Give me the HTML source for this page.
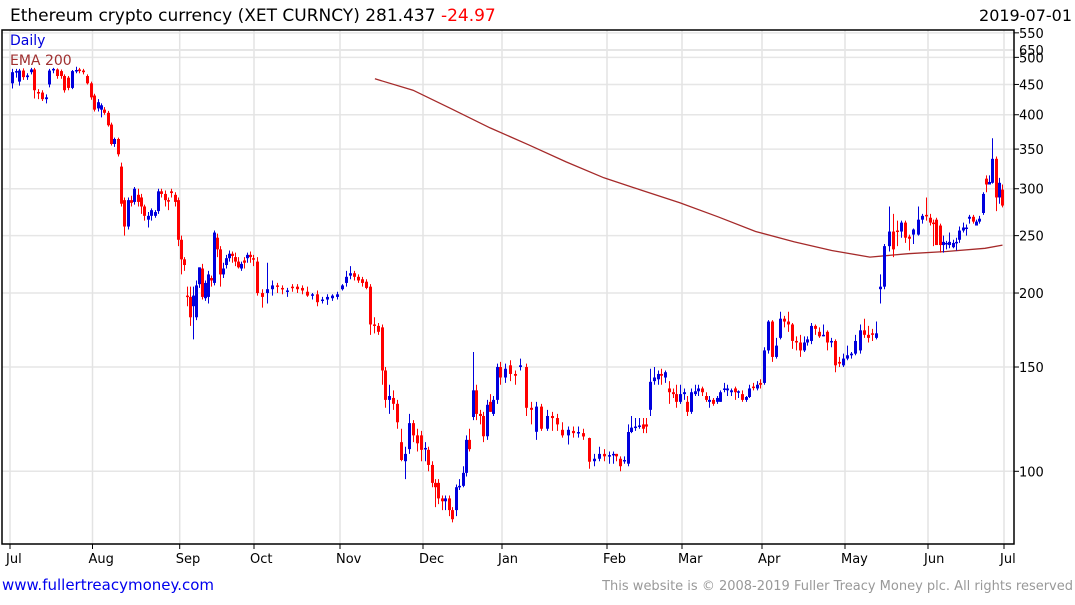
<!DOCTYPE html>
<html><head><meta charset="utf-8"><style>
html,body{margin:0;padding:0;background:#fff;}
body{width:1075px;height:600px;overflow:hidden;font-family:"Liberation Sans","DejaVu Sans",sans-serif;}
svg text{font-family:"DejaVu Sans","Liberation Sans",sans-serif;}
</style></head><body>
<svg id="chart" width="1075" height="600" viewBox="0 0 1075 600" xmlns="http://www.w3.org/2000/svg">
<rect width="1075" height="600" fill="#fff"/>
<text x="10" y="21" font-size="17" fill="#000">Ethereum crypto currency  (XET CURNCY) 281.437 <tspan fill="#ff0000">-24.97</tspan></text>
<text x="1072" y="21" font-size="16" fill="#000" text-anchor="end">2019-07-01</text>
<g id="grid"></g>
<line x1="2" y1="50" x2="1014" y2="50" stroke="#e6e6e6" stroke-width="2"/>
<g id="ema"></g>
<g id="candles"></g>
<rect x="2" y="30" width="1012" height="514" fill="none" stroke="#000" stroke-width="1.5"/>
<g id="yaxis"></g>
<g id="xaxis"></g>
<text x="10" y="45" font-size="14" fill="#0000dd">Daily</text>
<text x="10" y="65" font-size="14" fill="#a03030">EMA 200</text>
<text x="2" y="590" font-size="15" fill="#0000ee">www.fullertreacymoney.com</text>
<text x="1073" y="590" font-size="13" fill="#999" text-anchor="end">This website is © 2008-2019 Fuller Treacy Money plc. All rights reserved</text>
</svg>
<script>
const monthLabels=['Jul','Aug','Sep','Oct','Nov','Dec','Jan','Feb','Mar','Apr','May','Jun','Jul'];
const priceTicks=[100,150,200,250,300,350,400,450,500,550];
const candlesByMonth=[
[[452,478,443,472],[472,478,462,474],[455,478,448,475],[475,479,458,463],[463,470,458,466],[472,480,468,477],[477,480,426,440],[437,442,425,436],[436,440,422,425],[425,433,418,428],[450,478,445,475],[476,480,470,478],[477,479,460,465],[474,477,460,465],[465,468,436,440],[462,465,440,444],[444,476,442,474],[474,482,470,476],[477,480,470,474],[475,478,468,472],[465,468,450,452],[452,455,424,428]],
[[431,434,405,408],[410,425,405,420],[408,418,396,415],[408,412,400,403],[403,406,382,384],[385,388,355,357],[357,366,353,364],[364,366,340,343],[327,332,280,283],[287,290,250,259],[259,290,256,287],[287,292,280,284],[285,302,282,300],[293,300,280,285],[290,294,272,280],[280,282,265,270],[266,274,258,270],[270,278,265,276],[270,276,268,274],[275,300,272,297],[297,300,290,294],[294,298,280,287],[287,290,276,286],[297,300,290,295],[293,296,280,285],[287,290,240,246]],
[[246,250,215,228],[228,230,218,223],[198,205,190,197],[197,205,176,182],[190,205,167,198],[182,210,180,206],[207,221,204,221],[220,224,195,197],[196,210,194,208],[197,218,192,215],[212,214,205,210],[208,255,206,253],[248,252,230,237],[237,240,205,215],[215,225,212,220],[223,232,220,229],[229,236,226,233],[233,235,225,231],[230,234,222,226],[226,230,220,221],[220,226,218,224],[227,230,220,225],[229,234,225,232],[232,235,225,230],[229,232,222,228]],
[[226,230,198,200],[200,203,189,197],[200,225,192,203],[203,210,198,206],[206,208,200,205],[204,206,199,203],[201,204,197,202],[205,207,201,204],[205,207,200,203],[204,206,199,202],[201,205,197,198],[198,200,195,199],[199,202,190,193],[194,197,192,195],[195,199,191,197],[196,199,194,198],[197,201,195,199]],
[[203,207,202,206],[208,218,205,213],[214,222,211,216],[216,218,210,213],[213,215,208,210],[211,213,205,208],[209,211,203,204],[205,207,170,177],[177,182,171,176],[176,178,170,172],[175,177,140,148],[148,150,128,132],[132,140,125,134],[133,137,127,130],[130,132,118,121],[112,118,104,104.5],[104,110,97,107],[109,125,107,120.6],[120.6,122,112,115],[115,118,108,111.5],[115,117,104,108.7]],
[[109,112,104,109.5],[108.7,110,100,102.5],[102.5,104,94,95.6],[95.6,97,87,94],[95.6,97,88,90],[90,91,86,89],[89,91,86,90],[90,91,84,86],[86,87,82,83],[86,95,84,94],[94,97,93,94.5],[94.5,102,94,99.4],[99.4,115,98,113],[113,118,108,109],[123.5,159,122,137],[137,140,122,125],[125,127,120,124],[124,126,112,114.6],[114.6,132,113,129.5],[131,135,126,126],[125,134,124,132],[132,152,130,150],[150,153,140,144]],
[[144,152,141,149],[151,154,142,146],[146,148,140,145],[150,155,148,151],[150,152,124,128],[128,131,120,127],[116.6,131,113,128.6],[128.6,130,117,118],[118,127,117,124],[124,126,117,123],[123,125,117,120],[117.5,121,114,115],[115,119,111,117.5],[117,119,114,116],[116,119,114,116.5],[116,118,113,114.5],[113.8,114,101,103.8],[104,107,102,105],[105,110,104,107],[107,109,104,106]],
[[106,108,103,106.5],[106.5,108,103,107],[107,107,104,106],[105,106,100,102],[104,106,103,104.5],[103,120,102,116.5],[116.5,124,116,118.5],[118.5,123,117,119],[119,123,118,119.5],[120,123,116,118],[120,123,116,119],[127,149,124,141.6],[142,150,140,144],[143,148,140,146],[146,149,140,145],[144,148,141,147],[138,142,130,136],[136,138,133,135],[135,140,128,131],[131,140,130,135]],
[[135,138,132,136],[131,134,124,126],[126,138,125,136],[135,140,134,136.5],[136.5,140,134,138],[138,139,134,136],[134,136,131,132],[131,134,128,132],[132,133,129,130],[131,134,130,133],[131,137,131,136],[138,141,136,138],[137,140,134,138],[136,138,134,137],[138,139,132,136],[136,137,133,136.5],[135,137,131,132],[132,134,131,133.5],[133.5,140,133,138],[139,141,137,138.5],[138,142,137,140],[141,143,138,140]],
[[141,162,140,160],[160,180,158,179],[179,180,153,156],[156,168,155,163],[168,186,167,181],[181,183,175,179],[179,186,172,177],[177,178,161,166],[166,169,160,165],[165,170,156,160],[160,169,159,165],[165,169,163,167],[166,178,164,176],[176,177,170,174],[172,175,168,169],[170,177,169,170],[172,173,160,165],[165,168,162,166],[166,167,147,151],[153,156,150,152],[151,158,150,155]],
[[155,163,154,157],[157,159,155,158],[158,170,157,166],[160,177,158,173],[173,181,168,170],[170,176,165,168],[171,174,166,170],[168,179,167,171],[203,215,192,205],[205,242,203,240],[240,280,235,254],[254,272,230,237],[255,265,240,254],[254,265,248,263],[263,265,243,248],[249,251,236,247],[251,257,242,256],[251,280,250,266],[266,272,262,270],[271,290,265,270]],
[[268,272,260,263],[263,266,240,262],[266,268,241,241],[260,262,234,241],[241,250,234,244],[243,245,237,243],[241,253,238,244],[239,246,238,243],[243,248,236,244],[246,259,243,255],[255,263,253,258],[258,261,250,258],[267,271,262,269],[269,271,262,264],[260,266,260,264],[264,270,262,267],[273,296,271,294],[312,316,296,305],[305,316,305,308],[307,365,306,337],[337,340,275,290],[290,313,283,307],[299,305,279,281]]
];
const emaMonths=[4.42,4.88,5.35,5.85,6.25,6.61,6.97,7.47,7.97,8.45,8.92,9.39,9.84,10.30,10.76,11.24,11.75,11.98];
const emaValues=[460,440,410,380,356,333,313,298,284,269,254,244,236,230,233,235,238,241];

const NS='http://www.w3.org/2000/svg';
function mk(tag,attrs,parent){const e=document.createElementNS(NS,tag);for(const k in attrs)e.setAttribute(k,attrs[k]);parent.appendChild(e);return e;}
const AXIS_MONTH_PX=[10,92.5,179.7,254,340,423,502,607,682,762,845,928,1004];
function xMonth(m){const i=Math.min(Math.floor(m),11);const f=m-i;return AXIS_MONTH_PX[i]+f*(AXIS_MONTH_PX[i+1]-AXIS_MONTH_PX[i]);}
function yP(p){return 471.3-257.2*Math.log(p/100);}
const grid=document.getElementById('grid'),yax=document.getElementById('yaxis'),xax=document.getElementById('xaxis');
priceTicks.forEach(p=>{
  const y=yP(p);
  const g=mk('line',{x1:2,x2:1014,y1:y,y2:y,stroke:'#e6e6e6','stroke-width':1.5},grid);
  
  
  const t=mk('line',{x1:1014,x2:1019,y1:y,y2:y,stroke:'#000'},yax);
  
  
  const l=mk('text',{x:1019,y:y+5,'font-size':13,fill:'#000'},yax);
  l.textContent=p;
  
  
});
const ex=mk('text',{x:1019,y:55,'font-size':13,fill:'#000'},yax);ex.textContent='650';


monthLabels.forEach((m,i)=>{
  const x=xMonth(i);
  const g=mk('line',{x1:x,x2:x,y1:30,y2:544,stroke:'#e3e3e3','stroke-width':1.5},grid);
  
  
  const t=mk('line',{x1:x,x2:x,y1:544,y2:549,stroke:'#000'},xax);
  
  
  const l=mk('text',{x:x-4,y:563,'font-size':13,fill:'#000'},xax);
  l.textContent=m;
  
  
});
const cg=document.getElementById('candles');
candlesByMonth.forEach((arr,mi)=>{
  const n=arr.length;
  arr.forEach((c,k)=>{
    const x=Math.round(xMonth(mi+(k+0.5)/n));
    const [o,h,l,cl]=c;const col=cl>=o?'#0000dd':'#ff0000';
    const g=mk('g',{},cg);
    
    
    mk('line',{x1:x+0.5,x2:x+0.5,y1:yP(h),y2:yP(l),stroke:col,'stroke-width':1},g);
    const yt=yP(Math.max(o,cl)),yb=yP(Math.min(o,cl));
    mk('rect',{x:x-1,y:yt,width:3,height:Math.max(1.5,yb-yt),fill:col},g);
  });
});
const pts=emaMonths.map((m,i)=>xMonth(m).toFixed(1)+','+yP(emaValues[i]).toFixed(1)).join(' ');
const pl=mk('polyline',{points:pts,fill:'none',stroke:'#a52a2a','stroke-width':1.3},document.getElementById('ema'));


</script>
</body></html>
